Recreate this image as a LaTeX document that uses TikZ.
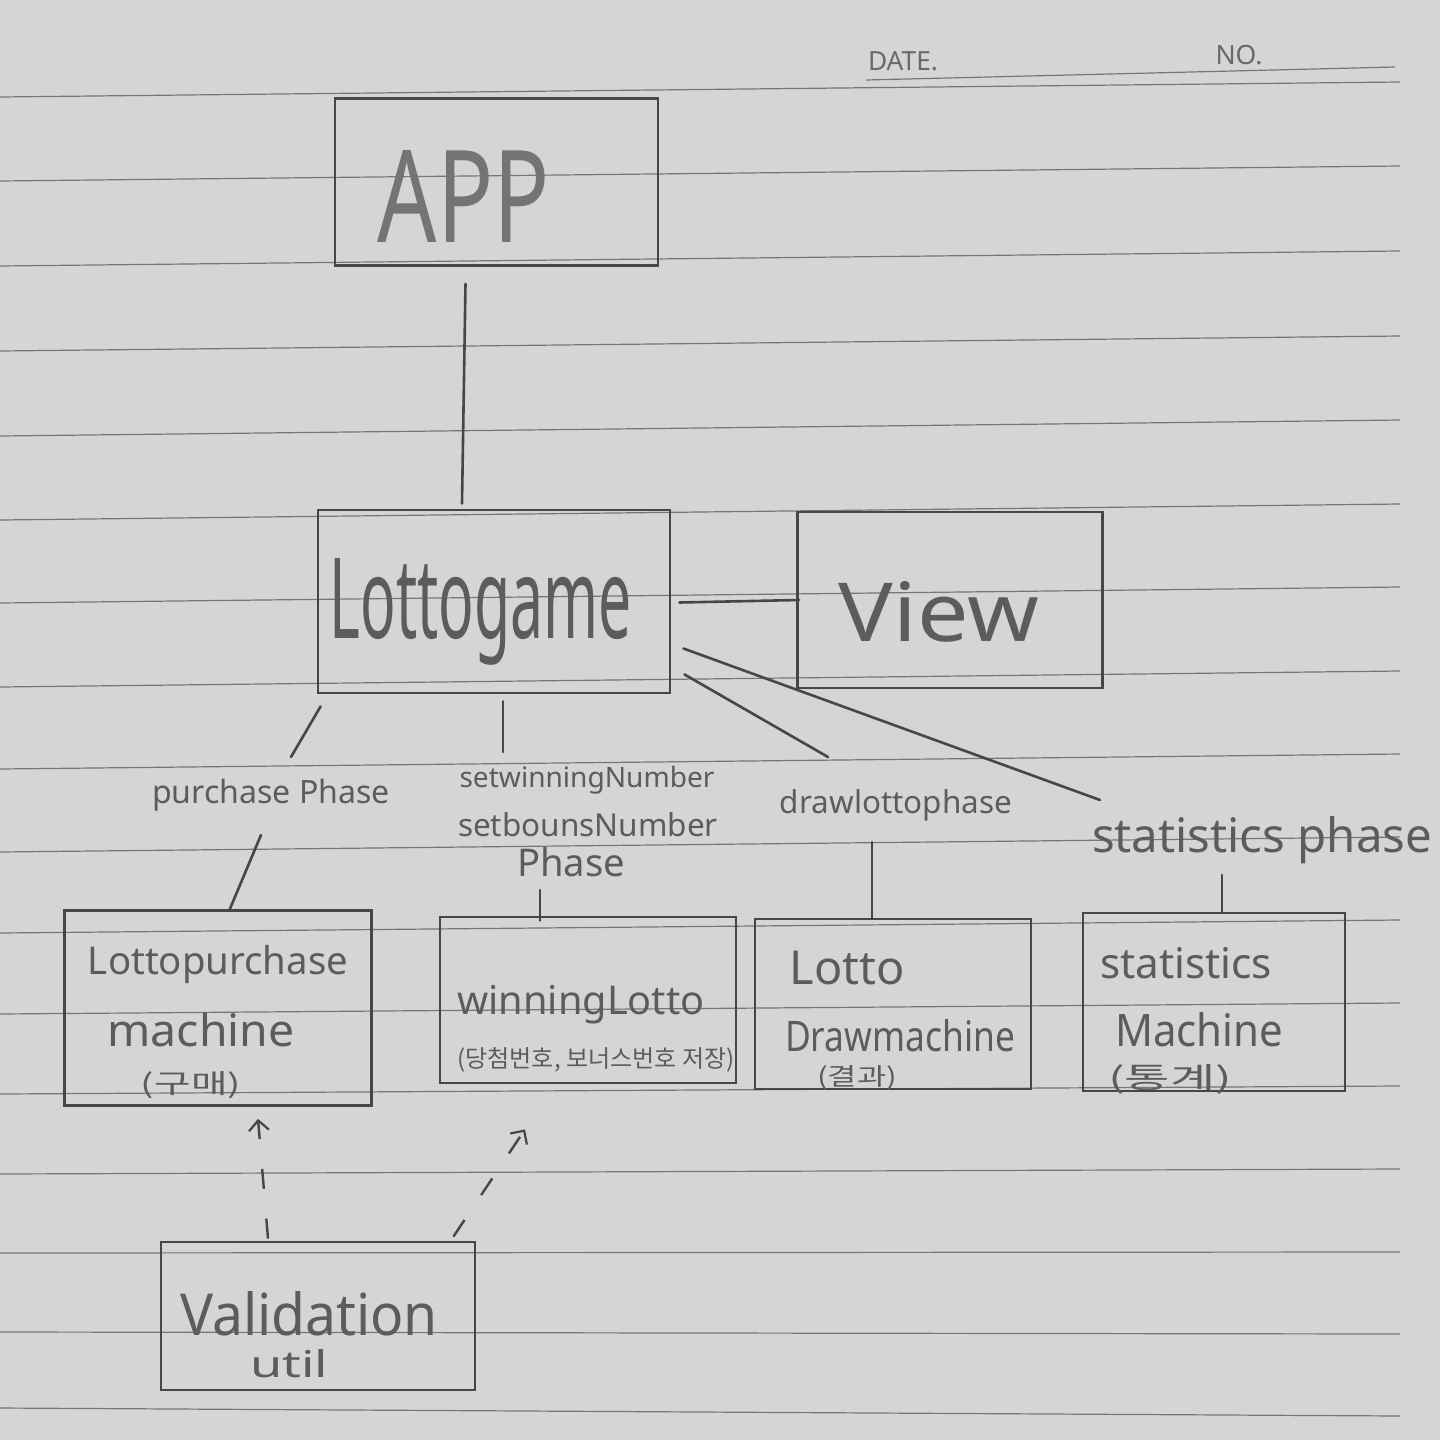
\documentclass[tikz,border=0pt]{standalone}
\usepackage{fontspec}
\setmainfont{Noto Sans}
\newfontfamily\krfont{Noto Sans CJK KR}
\usetikzlibrary{calc,arrows.meta}
\definecolor{paper}{RGB}{213,213,211}
\definecolor{ruleline}{RGB}{118,118,118}
\definecolor{pencil}{RGB}{70,70,70}
\definecolor{pencilt}{RGB}{92,92,92}
\definecolor{printed}{RGB}{105,105,105}
\newcommand{\fw}[2]{\resizebox{#1}{!}{#2}}
\newcommand{\fwh}[3]{\resizebox{#1}{#2}{#3}}
\begin{document}
\begin{tikzpicture}[x=0.5pt,y=-0.5pt,
  hbox/.style={draw=pencil,line width=1.4pt,inner sep=0pt,rectangle},
  lbl/.style={text=pencilt,inner sep=0pt,anchor=center},
  link/.style={draw=pencil,line width=1.3pt,line cap=round},
  dlink/.style={draw=pencil,line width=1.2pt,dash pattern=on 10pt off 15pt,
     -{Straight Barb[length=5pt,width=10pt,line width=1.1pt]}}]
\useasboundingbox (0,0) rectangle (1440,1440);
\fill[paper] (0,0) rectangle (1440,1440);
% ruled lines
\foreach \l/\r in {97/82,181/166,266/251,351/336,436/420,520/504,603/587,687/671,
  769/754,852/837,933/920,1014/1003,1094/1086,1174/1169,1253/1252,1332/1334,1408/1416}
  \draw[ruleline,line width=0.6pt] (0,\l) -- (1400,\r);
\draw[ruleline,line width=0.6pt] (866,80) -- (1395,67);
\node[text=printed,inner sep=0pt] (date) at (903,61) {\fw{35pt}{DATE.}};
\node[text=printed,inner sep=0pt] (no) at (1239,55) {\fw{23.5pt}{NO.}};
% boxes
\node[hbox,minimum width=161.5pt,minimum height=83.5pt] (app) at (496.5,182) {};
\node[hbox,minimum width=176pt,minimum height=91.5pt] (game) at (494,601.5) {};
\node[hbox,minimum width=152.5pt,minimum height=88pt] (view) at (950,600) {};
\node[hbox,minimum width=153.5pt,minimum height=97.5pt] (purch) at (218,1008) {};
\node[hbox,minimum width=148pt,minimum height=83pt] (win) at (588,1000) {};
\node[hbox,minimum width=138pt,minimum height=85pt] (drawb) at (893,1004) {};
\node[hbox,minimum width=131pt,minimum height=89pt] (stat) at (1214,1002) {};
\node[hbox,minimum width=157pt,minimum height=74pt] (valid) at (318,1316) {};
% box texts
\node[lbl,text=pencilt!80!paper] (tapp) at (464,196) {\fwh{86pt}{46pt}{APP}};
\node[lbl] (tgame) at (481,612) {\fwh{151pt}{40pt}{Lottogame}};
\node[lbl] (tview) at (939,612) {\fwh{100pt}{30pt}{View}};
\node[lbl] (tp1) at (218,965) {\fw{130pt}{Lottopurchase}};
\node[lbl] (tp2) at (201,1030) {\fwh{93.5pt}{17pt}{machine}};
\node[lbl] (tp3) at (191,1085) {\fwh{50pt}{11pt}{\krfont (구매)}};
\node[lbl] (tw1) at (581,1005) {\fw{123.5pt}{winningLotto}};
\node[lbl] (tw2) at (596,1060) {\fw{138.5pt}{\krfont (당첨번호, 보너스번호 저장)}};
\node[lbl] (td1) at (847,968) {\fw{57.5pt}{Lotto}};
\node[lbl] (td2) at (900,1036) {\fwh{115pt}{16pt}{Drawmachine}};
\node[lbl] (td3) at (857,1078) {\fwh{40pt}{10pt}{\krfont (결과)}};
\node[lbl] (ts1) at (1186,963) {\fw{86pt}{statistics}};
\node[lbl] (ts2) at (1199,1030) {\fwh{84pt}{17pt}{Machine}};
\node[lbl] (ts3) at (1170,1079) {\fwh{62pt}{12pt}{\krfont (통계)}};
\node[lbl] (tv1) at (309,1314) {\fwh{129pt}{22pt}{Validation}};
\node[lbl] (tv2) at (289,1364) {\fwh{39pt}{14pt}{util}};
% phase labels
\node[lbl] (purchL) at (271,795) {\fw{119pt}{purchase Phase}};
\node[lbl] (swL1) at (587,780) {\fw{127.5pt}{setwinningNumber}};
\node[lbl] (swL2) at (588,825) {\fw{130pt}{setbounsNumber}};
\node[lbl] (swL3) at (571,862) {\fw{54pt}{Phase}};
\node[lbl] (drawL) at (896,805) {\fw{116pt}{drawlottophase}};
\node[lbl] (statL) at (1262,840) {\fw{170pt}{statistics phase}};
% connectors
\draw[link] ($(app.south)+(-31,17)$) -- ($(game.north)+(-32,-5)$);
\draw[link] ($(game.east)+(8,1)$) -- ($(view.west)+(3,0)$);
\draw[link] ($(game.south west)+(4,12)$) -- ($(purchL.center)+(20,-38)$);
\draw[link] ($(purchL.center)+(-10,40)$) -- ($(purch.north)+(11,2)$);
\draw[link] ($(game.south)+(9,7)$) -- ($(swL1.center)+(-84,-28)$);
\draw[link] ($(swL3.center)+(-31,28)$) -- ($(win.north)+(-48,5)$);
\draw[link] ($(game.south east)+(13,-20)$) -- ($(drawL.center)+(-68,-48)$);
\draw[link] ($(drawL.center)+(-24,37)$) -- ($(drawb.north)+(-21,1)$);
\draw[link] ($(game.east)+(12,47)$) -- ($(statL.center)+(-162,-40)$);
\draw[link] ($(statL.center)+(-40,35)$) -- ($(stat.north)+(8,0)$);
\draw[dlink] ($(valid.north)+(-50,-2)$) -- ($(purch.south)+(40,12)$);
\draw[dlink] ($(valid.north east)+(-23,-4)$) -- ($(win.south)+(-63,45)$);
\end{tikzpicture}
\end{document}
